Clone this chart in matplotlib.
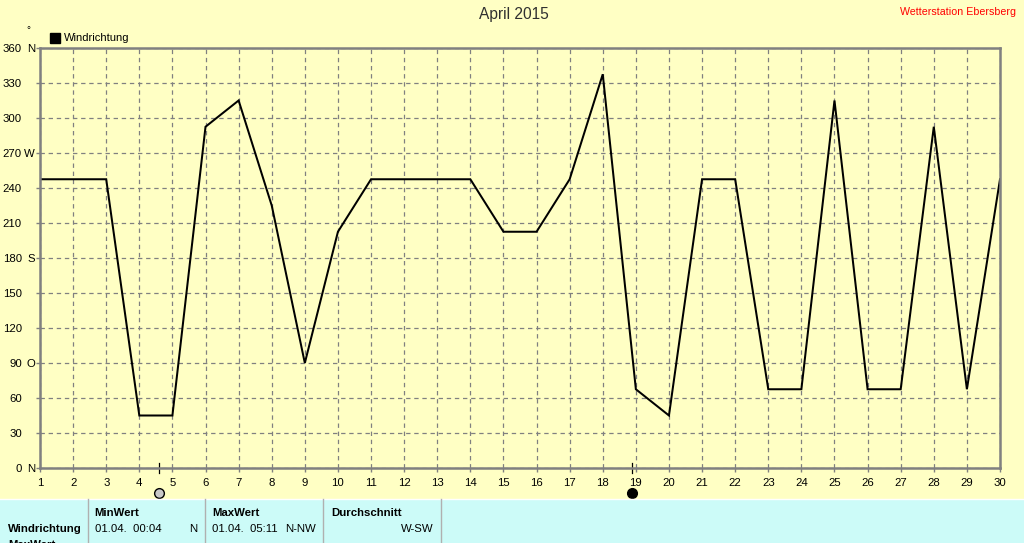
import matplotlib
matplotlib.use("Agg")
import matplotlib.pyplot as plt
from matplotlib.patches import Rectangle

days = list(range(1, 31))
direction = [247.5, 247.5, 247.5, 45, 45, 292.5, 315, 225, 90, 202.5,
             247.5, 247.5, 247.5, 247.5, 202.5, 202.5, 247.5, 337.5, 67.5, 45,
             247.5, 247.5, 67.5, 67.5, 315, 67.5, 67.5, 292.5, 67.5, 247.5]
y_ticks = [0, 30, 60, 90, 120, 150, 180, 210, 240, 270, 300, 330, 360]
y_labels = ["0", "30", "60", "90", "120", "150", "180", "210", "240", "270", "300", "330", "360"]
compass_ticks = [0, 90, 180, 270, 360]
compass_labels = ["N", "O", "S", "W", "N"]
moon_days = [4.6, 18.88]
moon_colors = ["#c8c8c8", "black"]

W, H = 1024, 543
BG = "#ffffc4"
PANEL = "#ccfbf8"
GRID = "#808080"
plt.rcParams["font.family"] = ["Liberation Sans", "DejaVu Sans"]


def fx(px):
    return px / W


def fy(py):
    return 1 - py / H


fig = plt.figure(figsize=(W / 100, H / 100), dpi=100, facecolor=BG)
ax = fig.add_axes([fx(40), fy(468), 960 / W, 420 / H], facecolor=BG)

ax.plot(days, direction, color="black", lw=1.45, solid_joinstyle="miter")
ax.set_xlim(1, 30)
ax.set_ylim(0, 360)
ax.set_xticks(days)
ax.set_yticks(y_ticks)
ax.set_yticklabels(y_labels)
ax.grid(True, color=GRID, ls=(0, (3.5, 3)), lw=0.9)
ax.tick_params(axis="x", length=3, width=1, color=GRID, labelsize=8.2, pad=4.5)
ax.tick_params(axis="y", length=3, width=1, color=GRID, labelsize=8.2, pad=10)
for spine in ax.spines.values():
    spine.set_color(GRID)
    spine.set_linewidth(1.8)

# Himmelsrichtungen neben den Gradzahlen
for val, name in zip(compass_ticks, compass_labels):
    ax.annotate(name, (0, val), xycoords=("axes fraction", "data"), xytext=(-3.5, -0.7),
                textcoords="offset points", ha="right", va="center", fontsize=8.2)

# Mondphasen
for day, col in zip(moon_days, moon_colors):
    ax.plot([day, day], [-4.5, 4.5], color="black", lw=0.9, clip_on=False)
    ax.plot([day], [-21.4], marker="o", ms=7, mfc=col, mec="black", mew=1, clip_on=False)

fig.text(fx(514), fy(15), "April 2015", ha="center", va="center", fontsize=11.2, color="#303030")
fig.text(fx(1016), fy(12), "Wetterstation Ebersberg", ha="right", va="center", fontsize=7.7, color="red")
fig.text(fx(28), fy(30), "°", ha="center", va="center", fontsize=7)

# Legende
fig.add_artist(Rectangle((fx(50), fy(43)), 10 / W, 10 / H, color="black", transform=fig.transFigure))
fig.text(fx(64), fy(38), "Windrichtung", ha="left", va="center", fontsize=8)

# Tabelle unten
fig.add_artist(Rectangle((0, 0), 1, 44 / H, facecolor=PANEL, edgecolor="none", transform=fig.transFigure))
fig.add_artist(plt.Line2D([0, 1], [fy(499), fy(499)], color="white", lw=1, transform=fig.transFigure))
for px in [88, 205, 323, 441]:
    fig.add_artist(plt.Line2D([fx(px), fx(px)], [fy(499), 0], color="#b0b0b0", lw=1, transform=fig.transFigure))

fig.text(fx(8), fy(529), "Windrichtung", fontweight="bold", fontsize=8.2, va="center")
fig.text(fx(8), fy(545), "MaxWert", fontweight="bold", fontsize=8.2, va="center")
fig.text(fx(94), fy(513), "MinWert", fontweight="bold", fontsize=8.2, va="center")
fig.text(fx(95), fy(529), "01.04.  00:04", fontsize=8.2, va="center")
fig.text(fx(197), fy(529), "N", fontsize=8.2, va="center", ha="right")
fig.text(fx(212), fy(513), "MaxWert", fontweight="bold", fontsize=8.2, va="center")
fig.text(fx(212), fy(529), "01.04.  05:11", fontsize=8.2, va="center")
fig.text(fx(316), fy(529), "N-NW", fontsize=8.2, va="center", ha="right")
fig.text(fx(331), fy(513), "Durchschnitt", fontweight="bold", fontsize=8.2, va="center")
fig.text(fx(434), fy(529), "W-SW", fontsize=8.2, va="center", ha="right")

fig.savefig("out.png", dpi=100, facecolor=BG)
